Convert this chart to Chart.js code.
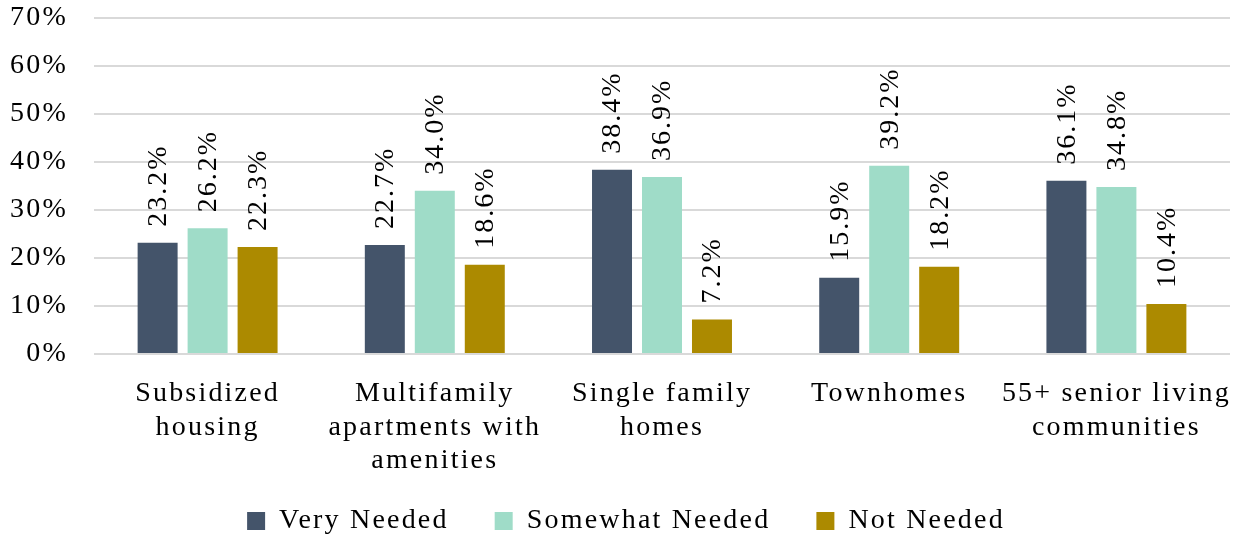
<!DOCTYPE html>
<html>
<head>
<meta charset="utf-8">
<script src="https://cdn.jsdelivr.net/npm/chart.js@4"></script>
<style>
  body { margin: 0; background: #fff; }
</style>
</head>
<body>
<canvas id="myChart" width="1236" height="540"></canvas>
<script>
const categories = [
  ["Subsidized", "housing"],
  ["Multifamily", "apartments with", "amenities"],
  ["Single family", "homes"],
  ["Townhomes"],
  ["55+ senior living", "communities"]
];
const veryNeeded = [23.2, 22.7, 38.4, 15.9, 36.1];
const somewhatNeeded = [26.2, 34.0, 36.9, 39.2, 34.8];
const notNeeded = [22.3, 18.6, 7.2, 18.2, 10.4];
const yTicks = [0, 10, 20, 30, 40, 50, 60, 70];

const fontFamily = "'Liberation Serif', 'Times New Roman', serif";
const spacing = "2.2px";

// canvas letter spacing, Chart.js does not set it itself
const spacingPlugin = {
  id: 'spacing',
  beforeUpdate(chart) { chart.ctx.letterSpacing = spacing; },
  beforeLayout(chart) { chart.ctx.letterSpacing = spacing; },
  beforeDraw(chart) { chart.ctx.letterSpacing = spacing; }
};

// nudge the legend a bit (it sits slightly right and higher in the original)
const legendNudge = {
  id: 'legendNudge',
  afterLayout(chart) {
    const lg = chart.legend;
    lg.left += 10; lg.right += 10;
    lg.top -= 18; lg.bottom -= 18;
  }
};

// value labels written upwards above each bar
const barLabels = {
  id: 'barLabels',
  afterDatasetsDraw(chart) {
    const ctx = chart.ctx;
    ctx.save();
    ctx.letterSpacing = "2px";
    ctx.font = "28px " + fontFamily;
    ctx.fillStyle = '#000';
    ctx.textAlign = 'left';
    ctx.textBaseline = 'middle';
    chart.data.datasets.forEach((ds, i) => {
      chart.getDatasetMeta(i).data.forEach((bar, j) => {
        ctx.save();
        ctx.translate(bar.x, bar.y - 16);
        ctx.rotate(-Math.PI / 2);
        ctx.fillText(ds.data[j].toFixed(1) + '%', 0, 1);
        ctx.restore();
      });
    });
    ctx.restore();
  }
};

const noPad = scale => {
  scale.paddingTop = 0;
  scale.paddingBottom = 0;
  scale.paddingLeft = 0;
  scale.paddingRight = 0;
};

const ctx = document.getElementById('myChart');

new Chart(ctx, {
  type: 'bar',
  data: {
    labels: categories,
    datasets: [
      { label: 'Very Needed', data: veryNeeded, backgroundColor: '#44546a' },
      { label: 'Somewhat Needed', data: somewhatNeeded, backgroundColor: '#9fdcc8' },
      { label: 'Not Needed', data: notNeeded, backgroundColor: '#ac8a00' }
    ]
  },
  options: {
    responsive: false,
    animation: false,
    devicePixelRatio: 1,
    categoryPercentage: 0.66,
    barPercentage: 0.8,
    layout: { padding: { top: 18, left: 2, right: 6, bottom: -23 } },
    scales: {
      x: {
        grid: { display: false },
        border: { display: false },
        afterFit(scale) { scale.height = 125; noPad(scale); },
        ticks: {
          color: '#000',
          font: { family: fontFamily, size: 28, lineHeight: 1.2 },
          padding: 15,
          maxRotation: 0,
          autoSkip: false
        }
      },
      y: {
        min: 0,
        max: 70,
        grid: { color: '#d9d9d9', lineWidth: 2, drawTicks: false },
        border: { display: false },
        afterFit(scale) { scale.width = 92; noPad(scale); },
        afterBuildTicks(scale) { scale.ticks = yTicks.map(v => ({ value: v })); },
        ticks: {
          color: '#000',
          padding: 26,
          font: { family: fontFamily, size: 28 },
          callback: v => v + '%'
        }
      }
    },
    plugins: {
      legend: {
        position: 'bottom',
        labels: {
          color: '#000',
          font: { family: fontFamily, size: 28 },
          boxWidth: 18,
          boxHeight: 18,
          padding: 46
        }
      },
      tooltip: { enabled: false }
    }
  },
  plugins: [spacingPlugin, legendNudge, barLabels]
});
</script>
</body>
</html>
